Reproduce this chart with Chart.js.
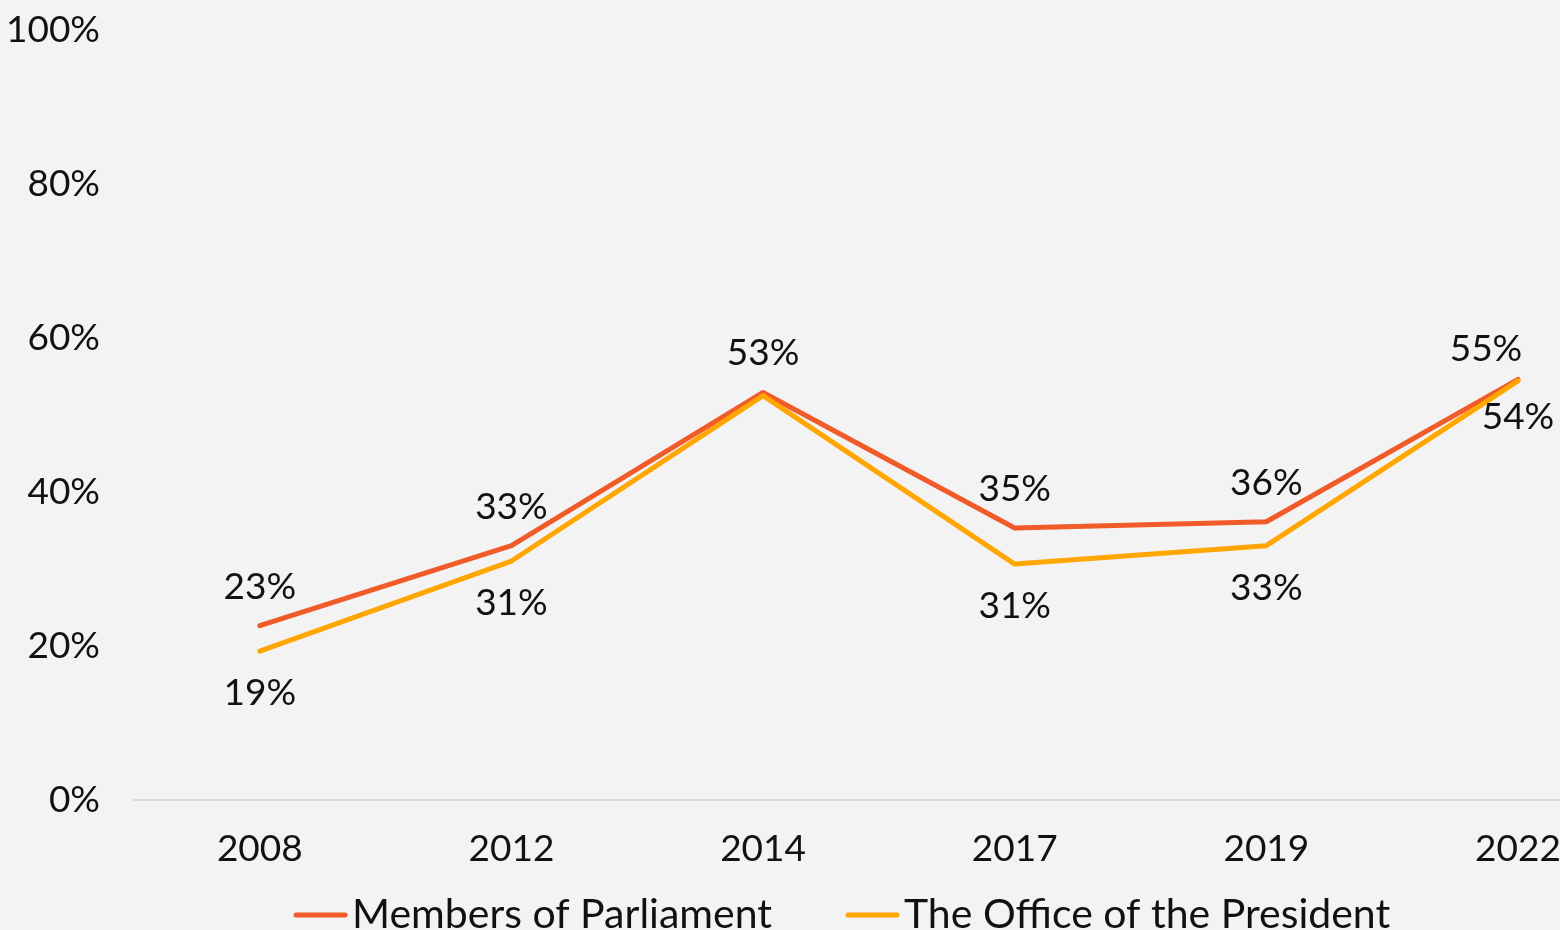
<!DOCTYPE html>
<html>
<head>
<meta charset="utf-8">
<script src="https://cdn.jsdelivr.net/npm/chart.js@4.4.0/dist/chart.umd.min.js"></script>
<style>
  html, body { margin: 0; padding: 0; background: #f3f3f3; overflow: hidden; }
  #wrap { width: 1560px; height: 930px; position: relative; }
</style>
</head>
<body>
<div id="wrap"><canvas id="lineChart"></canvas></div>
<script>
const years = ['2008', '2012', '2014', '2017', '2019', '2022'];
const parliament = [22.6, 33, 52.9, 35.3, 36.1, 54.6];
const president = [19.3, 31, 52.5, 30.6, 33, 54.4];
const yTicks = [0, 20, 40, 60, 80, 100];
// labels Excel left out (overlap)
const presidentHidden = [2];

const FONT = 'Lato, "DejaVu Sans", sans-serif';

const labelPlugin = {
  id: 'pointLabels',
  afterDatasetsDraw(chart) {
    const ctx = chart.ctx;
    ctx.save();
    ctx.font = '37px ' + FONT;
    ctx.fillStyle = '#111';
    ctx.textAlign = 'center';
    ctx.textBaseline = 'middle';
    chart.data.datasets.forEach((ds, i) => {
      const meta = chart.getDatasetMeta(i);
      meta.data.forEach((pt, j) => {
        if (i === 1 && presidentHidden.includes(j)) return;
        const txt = Math.round(ds.data[j].y) + '%';
        const last = j === ds.data.length - 1;
        let x = pt.x;
        let y = i === 0 ? pt.y - (last ? 30 : 39) : pt.y + (last ? 36 : 42);
        if (last && i === 0) x -= 32;
        ctx.fillText(txt, x, y);
      });
    });
    ctx.restore();
  }
};

// bottom legend, line marker + text, half cut off by the page edge like the original
const legendPlugin = {
  id: 'lineLegend',
  afterDraw(chart) {
    const ctx = chart.ctx;
    const y = 915;
    const starts = [293, 845];
    ctx.save();
    ctx.font = '41px ' + FONT;
    ctx.textBaseline = 'middle';
    ctx.lineWidth = 5;
    ctx.lineCap = 'round';
    chart.data.datasets.forEach((ds, i) => {
      const x = starts[i];
      ctx.strokeStyle = ds.borderColor;
      ctx.beginPath();
      ctx.moveTo(x + 3, y);
      ctx.lineTo(x + 52, y);
      ctx.stroke();
      ctx.fillStyle = '#111';
      ctx.fillText(ds.label, x + 59, y);
    });
    ctx.restore();
  }
};

const ctx = document.getElementById('lineChart').getContext('2d');
const chart = new Chart(ctx, {
  type: 'line',
  data: {
    datasets: [{
      label: 'Members of Parliament',
      data: parliament.map((v, i) => ({ x: i, y: v })),
      borderColor: '#f15a29',
      backgroundColor: '#f15a29',
      borderWidth: 5,
      borderCapStyle: 'round',
      borderJoinStyle: 'round',
      pointRadius: 0,
      tension: 0,
      order: 1
    }, {
      label: 'The Office of the President',
      data: president.map((v, i) => ({ x: i, y: v })),
      borderColor: '#ffa600',
      backgroundColor: '#ffa600',
      borderWidth: 5,
      borderCapStyle: 'round',
      borderJoinStyle: 'round',
      pointRadius: 0,
      tension: 0,
      order: 0
    }]
  },
  options: {
    responsive: true,
    maintainAspectRatio: false,
    animation: false,
    layout: { padding: { top: 30, right: 0, left: 0, bottom: 32 } },
    scales: {
      x: {
        type: 'linear',
        min: -0.5,
        max: 5.167,
        afterBuildTicks: axis => { axis.ticks = years.map((y, i) => ({ value: i })); },
        afterFit: axis => { axis.paddingRight = 0; axis.paddingLeft = 0; },
        grid: { display: false, drawTicks: false },
        border: { display: true, color: '#d9d9d9', width: 2 },
        ticks: {
          color: '#111',
          font: { size: 37, family: FONT },
          padding: 27,
          maxRotation: 0,
          callback: v => years[v]
        }
      },
      y: {
        min: 0,
        max: 100,
        afterBuildTicks: axis => { axis.ticks = yTicks.map(v => ({ value: v })); },
        afterFit: axis => { axis.width = 134; axis.paddingTop = 0; axis.paddingBottom = 0; },
        grid: { display: false, drawTicks: false },
        border: { display: false },
        ticks: {
          color: '#111',
          font: { size: 37, family: FONT },
          padding: 34,
          callback: v => v + '%'
        }
      }
    },
    plugins: {
      legend: { display: false },
      tooltip: { enabled: false }
    }
  },
  plugins: [labelPlugin, legendPlugin]
});
</script>
</body>
</html>
